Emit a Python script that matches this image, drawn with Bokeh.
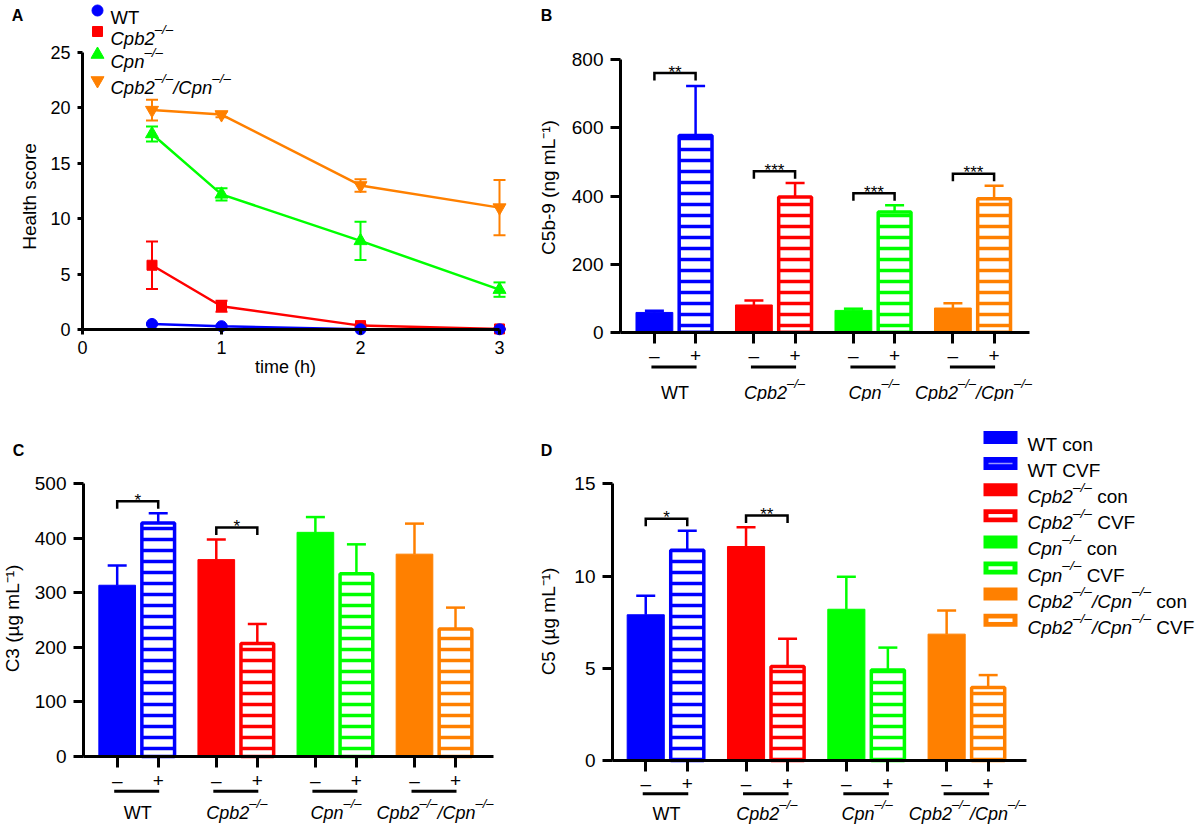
from bokeh.plotting import figure
from bokeh.models import Range1d, FixedTicker, Whisker, TeeHead, ColumnDataSource
from bokeh.layouts import column, row
from bokeh.embed import file_html
from bokeh.resources import INLINE
from bokeh.core.properties import value, field

FONT = "Liberation Sans"

# ---------------- data ----------------
# Panel A: health score over time
time_h = [0.5, 1, 2, 3]
wt_score = [0.5, 0.3, 0.02, 0.02]
wt_err = [0.05, 0.05, 0.02, 0.02]
cpb2_score = [5.8, 2.1, 0.35, 0.05]
cpb2_err = [2.15, 0.5, 0.1, 0.05]
cpn_score = [17.65, 12.2, 8.0, 3.6]
cpn_err = [0.68, 0.55, 1.73, 0.65]
dko_score = [19.8, 19.4, 13.0, 11.0]
dko_err = [0.93, 0.25, 0.56, 2.5]

# genotype groups (panels B-D)
groups = ["WT", "Cpb2", "Cpn", "Cpb2/Cpn"]
group_colors = ["#0000FF", "#FF0000", "#00FF00", "#FF8000"]

# Panel B: C5b-9 (ng/mL)
c5b9_con = [58, 80, 64, 71]
c5b9_con_err = [5, 13, 5, 14]
c5b9_cvf = [578, 397, 353, 392]
c5b9_cvf_err = [145, 41, 20, 38]
c5b9_sig_groups = [0, 1, 2, 3]
c5b9_sig_y = [761, 473, 408, 465]
c5b9_sig = ["**", "***", "***", "***"]

# Panel C: C3 (ug/mL)
c3_con = [314, 361, 411, 371]
c3_con_err = [36, 37, 28, 56]
c3_cvf = [428, 207, 335, 234]
c3_cvf_err = [18, 36, 54, 39]
c3_sig_groups = [0, 1]
c3_sig_y = [468, 420]
c3_sig = ["*", "*"]

# Panel D: C5 (ug/mL)
c5_con = [7.9, 11.6, 8.2, 6.85]
c5_con_err = [1.03, 1.05, 1.76, 1.28]
c5_cvf = [11.4, 5.1, 4.9, 3.96]
c5_cvf_err = [1.05, 1.5, 1.22, 0.67]
c5_sig_groups = [0, 1]
c5_sig_y = [13.1, 13.28]
c5_sig = ["*", "**"]

# ---------------- helpers ----------------
CW = {'C': 722, 'p': 556, 'b': 556, '2': 556, 'n': 556, '/': 278, '\u2013': 556,
      'W': 944, 'T': 611, ' ': 278, 'c': 500, 'o': 556, 'V': 667, 'F': 611}
HALF_PI = 1.5707963267948966


def text_width(s, size):
    return sum(CW.get(ch, 556) for ch in s) * size / 1000.0


def group_segments(name):
    if name == "WT":
        return [("WT", "normal", False)]
    segs = []
    for i, part in enumerate(name.split("/")):
        segs.append((("/" if i else "") + part, "italic", False))
        segs.append(("\u2013/\u2013", "italic", True))
    return segs


def rich(p, x, y, segs, size, align="left", sup_scale=0.72, sup_rise=0.48):
    sup_size = size * sup_scale
    widths = [text_width(t, sup_size if sup else size) for t, st, sup in segs]
    off = 0.0 if align == "left" else -sum(widths) / 2.0
    for (t, st, sup), w in zip(segs, widths):
        fs = sup_size if sup else size
        lead = len(t) - len(t.lstrip(" "))
        shown = t.lstrip(" ")
        p.text(x=[x], y=[y], text=[shown], x_offset=off + lead * CW[' '] * fs / 1000.0,
               y_offset=(-sup_rise * size if sup else 0),
               text_font=value(FONT), text_font_size=value(f"{fs:.1f}px"),
               text_font_style=value(st), text_align="left",
               text_baseline="alphabetic", text_color="black")
        off += w


class Panel:
    """Maps picture pixels to data values for one panel (figure covers its whole box)."""

    def __init__(self, left, top, width, height, axis_px,
                 x_px0, x_val0, x_px_per, y_px0, y_px_per):
        self.left, self.top, self.width, self.height = left, top, width, height
        self.axis_px = axis_px
        self.x_px0, self.x_val0, self.x_px_per = x_px0, x_val0, x_px_per
        self.y_px0, self.y_px_per = y_px0, y_px_per

    def X(self, px):
        return self.x_val0 + (px - self.x_px0) / self.x_px_per

    def Y(self, py):
        return (self.y_px0 - py) / self.y_px_per

    def figure(self):
        p = figure(width=self.width, height=self.height,
                   x_range=Range1d(self.X(self.left), self.X(self.left + self.width)),
                   y_range=Range1d(self.Y(self.top + self.height), self.Y(self.top)),
                   output_backend="svg", toolbar_location=None,
                   min_border_left=0, min_border_right=0,
                   min_border_top=0, min_border_bottom=0)
        p.outline_line_color = None
        p.xgrid.grid_line_color = None
        p.ygrid.grid_line_color = None
        p.background_fill_color = "white"
        p.border_fill_color = "white"
        p.yaxis[0].fixed_location = self.X(self.axis_px)
        p.xaxis[0].fixed_location = 0
        return p

    def label(self, p, px, py, text, size, style="normal", angle=0.0):
        p.text(x=[self.X(px)], y=[self.Y(py)], text=[text], angle=angle,
               text_font=value(FONT), text_font_size=value(f"{size}px"),
               text_font_style=value(style), text_align="center",
               text_baseline="middle", text_color="black")


def style_axis(ax, tick_out, label_size, standoff):
    ax.axis_line_width = 3
    ax.axis_line_color = "black"
    ax.major_tick_line_width = 3
    ax.major_tick_line_color = "black"
    ax.major_tick_in = 0
    ax.major_tick_out = tick_out
    ax.minor_tick_line_color = None
    ax.major_label_text_font = FONT
    ax.major_label_text_font_size = f"{label_size}px"
    ax.major_label_text_color = "black"
    ax.major_label_standoff = standoff


# ---------------- panel A ----------------
PA = Panel(0, 0, 530, 401, 82, 82, 0.0, 139.0, 329.0, 11.08)
pa = PA.figure()
ya, xa = pa.yaxis[0], pa.xaxis[0]
ya.ticker = FixedTicker(ticks=[0, 5, 10, 15, 20, 25])
ya.bounds = (0, 25)
style_axis(ya, 5, 18, 7)
xa.ticker = FixedTicker(ticks=[0, 1, 2, 3])
xa.bounds = (0, 3)
style_axis(xa, 5, 18, 6)

series_a = [("WT", wt_score, wt_err, group_colors[0], "circle", 11),
            ("Cpb2", cpb2_score, cpb2_err, group_colors[1], "square", 10),
            ("Cpn", cpn_score, cpn_err, group_colors[2], "triangle", 13),
            ("Cpb2/Cpn", dko_score, dko_err, group_colors[3], "inverted_triangle", 13)]

for name, ys, errs, color, marker, size in reversed(series_a):
    src = ColumnDataSource(dict(t=time_h, y=ys,
                                lo=[v - e for v, e in zip(ys, errs)],
                                hi=[v + e for v, e in zip(ys, errs)]))
    pa.line("t", "y", source=src, line_color=color, line_width=2.5)
    pa.add_layout(Whisker(source=src, base="t", lower="lo", upper="hi",
                          line_color=color, line_width=2,
                          upper_head=TeeHead(size=12, line_color=color, line_width=2),
                          lower_head=TeeHead(size=12, line_color=color, line_width=2)))
    pa.scatter("t", "y", source=src, marker=marker, size=size,
               fill_color=color, line_color=color)

legend_a_rows = [10, 31, 54, 80]
for (name, ys, errs, color, marker, size), ry in zip(series_a, legend_a_rows):
    pa.scatter(x=[PA.X(97)], y=[PA.Y(ry)], marker=marker, size=size,
               fill_color=color, line_color=color)
    rich(pa, PA.X(110), PA.Y(ry + 6.5), group_segments(name), 18.5)

PA.label(pa, 285, 366, "time (h)", 18)
PA.label(pa, 17, 15, "A", 16, "bold")
PA.label(pa, 29, 196, "Health score", 19, angle=HALF_PI)


# ---------------- bar panels ----------------
def bar_panel(P, con, con_err, cvf, cvf_err, yticks, sig_groups, sig_y, sig,
              pm_standoff, axis_end_px, underline_px, label_base_px, letter, letter_pos,
              ytitle, ytitle_pos):
    p = P.figure()
    yax, xax = p.yaxis[0], p.xaxis[0]
    yax.ticker = FixedTicker(ticks=yticks)
    yax.bounds = (yticks[0], yticks[-1])
    style_axis(yax, 10, 19, 7)

    d = 0.207
    xc = [round(i + 1 - d, 3) for i in range(len(groups))]
    xv = [round(i + 1 + d, 3) for i in range(len(groups))]
    xax.ticker = FixedTicker(ticks=sorted(xc + xv))
    xax.bounds = (P.X(P.axis_px), P.X(axis_end_px))
    overrides = {x: "\u2013" for x in xc}
    overrides.update({x: "+" for x in xv})
    xax.major_label_overrides = overrides
    style_axis(xax, 11, 19, pm_standoff)

    src_con = ColumnDataSource(dict(x=xc, top=con, color=group_colors))
    p.vbar(x="x", top="top", width=0.37, source=src_con,
           fill_color=field("color"), line_color=field("color"), line_width=1)
    src_cvf = ColumnDataSource(dict(x=xv, top=cvf, color=group_colors))
    p.vbar(x="x", top="top", width=0.33, source=src_cvf,
           fill_color="white", line_color=field("color"), line_width=3.5,
           hatch_pattern="horizontal_line", hatch_color=field("color"),
           hatch_weight=3.5, hatch_scale=11)

    for i, color in enumerate(group_colors):
        for xs_, vals, errs in ((xc, con, con_err), (xv, cvf, cvf_err)):
            src = ColumnDataSource(dict(x=[xs_[i]], lo=[vals[i]], hi=[vals[i] + errs[i]]))
            p.add_layout(Whisker(source=src, base="x", lower="lo", upper="hi",
                                 line_color=color, line_width=2.5,
                                 upper_head=TeeHead(size=19, line_color=color, line_width=2.5),
                                 lower_head=None))

    # significance brackets
    leg = 7.5 / P.y_px_per
    for g, by, s in zip(sig_groups, sig_y, sig):
        p.multi_line(xs=[[xc[g], xc[g], xv[g], xv[g]]],
                     ys=[[by - leg, by, by, by - leg]],
                     line_color="black", line_width=2.5, line_join="miter")
        p.text(x=[(xc[g] + xv[g]) / 2], y=[by + 1.0 / P.y_px_per], text=[s],
               text_font=value(FONT), text_font_size=value("17px"),
               text_align="center", text_baseline="alphabetic", text_color="black")

    # group underlines and labels
    uy = P.Y(underline_px)
    p.segment(x0=[x - 0.03 for x in xc], y0=[uy] * len(xc),
              x1=[x + 0.01 for x in xv], y1=[uy] * len(xv),
              line_color="black", line_width=3)
    for i, g in enumerate(groups):
        rich(p, i + 1, P.Y(label_base_px), group_segments(g), 18, align="center")

    P.label(p, letter_pos[0], letter_pos[1], letter, 16, "bold")
    P.label(p, ytitle_pos[0], ytitle_pos[1], ytitle, 19, angle=HALF_PI)
    return p


PB = Panel(530, 0, 670, 401, 620, 674.5, 1.0, 99.5, 331.7, 0.3405)
pb = bar_panel(PB, c5b9_con, c5b9_con_err, c5b9_cvf, c5b9_cvf_err,
               [0, 200, 400, 600, 800], c5b9_sig_groups, c5b9_sig_y, c5b9_sig,
               2, 1029, 366.5, 392, "B", (546, 15), "C5b-9 (ng mL\u207b\u00b9)", (548, 187))

PC = Panel(0, 401, 530, 423, 83, 137.2, 1.0, 99.1, 756.0, 0.5454)
pc = bar_panel(PC, c3_con, c3_con_err, c3_cvf, c3_cvf_err,
               [0, 100, 200, 300, 400, 500], c3_sig_groups, c3_sig_y, c3_sig,
               2, 493, 790.7, 812, "C", (18, 450), "C3 (\u00b5g mL\u207b\u00b9)", (12, 618))

PD = Panel(530, 401, 670, 423, 612, 666.0, 1.0, 100.3, 760.0, 18.447)
pd_ = bar_panel(PD, c5_con, c5_con_err, c5_cvf, c5_cvf_err,
                [0, 5, 10, 15], c5_sig_groups, c5_sig_y, c5_sig,
                1, 1026, 793.3, 813, "D", (546, 450), "C5 (\u00b5g mL\u207b\u00b9)", (548, 621))

# legend for panel D
legend_rows = [437 + 26.1 * k for k in range(2 * len(groups))]
k = 0
for g, color in zip(groups, group_colors):
    for cond in ("con", "CVF"):
        ry = legend_rows[k]
        pd_.rect(x=[PD.X(1000)], y=[PD.Y(ry)], width=34, height=13,
                 width_units="screen", height_units="screen",
                 fill_color=color, line_color=None)
        if cond == "CVF":
            pd_.rect(x=[PD.X(1000)], y=[PD.Y(ry)], width=24,
                     height=(1.5 if g == "WT" else 3.5),
                     width_units="screen", height_units="screen",
                     fill_color=("#9999FF" if g == "WT" else "white"), line_color=None)
        rich(pd_, PD.X(1027), PD.Y(ry + 7), group_segments(g) + [(" " + cond, "normal", False)], 19)
        k += 1

layout = column(row(pa, pb), row(pc, pd_))
open("out.html", "w").write(file_html(layout, INLINE, "Complement figure"))
